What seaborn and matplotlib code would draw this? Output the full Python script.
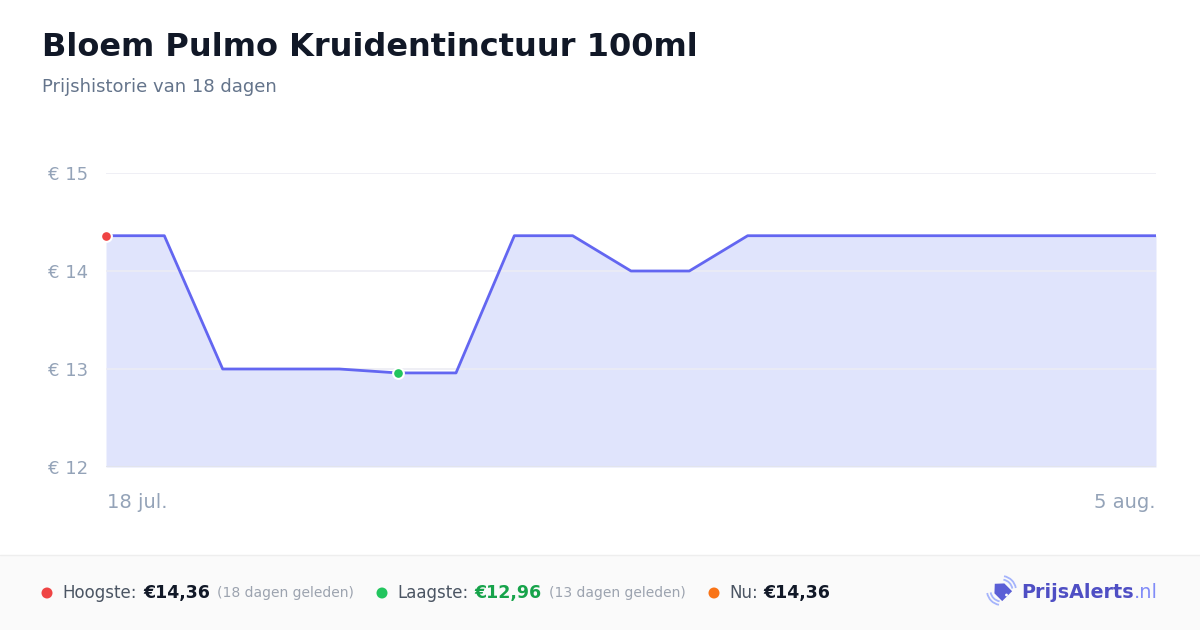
import numpy as np
import pandas as pd
import matplotlib
matplotlib.use("Agg")
import matplotlib.pyplot as plt
import matplotlib.patches as mpatches
import seaborn as sns

# price history, 18 jul -> 5 aug
dates = ["2024-07-18", "2024-07-19", "2024-07-20", "2024-07-21", "2024-07-22",
         "2024-07-23", "2024-07-24", "2024-07-25", "2024-07-26", "2024-07-27",
         "2024-07-28", "2024-07-29", "2024-07-30", "2024-07-31", "2024-08-01",
         "2024-08-02", "2024-08-03", "2024-08-04", "2024-08-05"]
prices = [14.36, 14.36, 13.00, 13.00, 13.00, 12.96, 12.96, 14.36, 14.36, 14.00,
          14.00, 14.36, 14.36, 14.36, 14.36, 14.36, 14.36, 14.36, 14.36]
y_ticks = [12, 13, 14, 15]
x_labels = ["18 jul.", "5 aug."]

title = "Bloem Pulmo Kruidentinctuur 100ml"
subtitle = "Prijshistorie van 18 dagen"

df = pd.DataFrame({"date": pd.to_datetime(dates), "price": prices})
df["day"] = (df["date"] - df["date"].iloc[0]).dt.days

sns.set_style("white")
plt.rcParams["font.family"] = ["DejaVu Sans"]

W, H = 1200, 630
fig = plt.figure(figsize=(12, 6.3), dpi=100)
fig.patch.set_facecolor("white")

# overlay in pixel coordinates for header / footer decoration
ov = fig.add_axes([0, 0, 1, 1], zorder=-1)
ov.set_xlim(0, W)
ov.set_ylim(H, 0)
ov.axis("off")
ov.add_patch(mpatches.Rectangle((0, 555), W, 75, facecolor="#fafafa", edgecolor="none"))
ov.plot([0, W], [554.5, 554.5], color="#eeeeee", lw=1)

ax = fig.add_axes([106 / W, 1 - 467 / H, 1050 / W, 294 / H])
ax.set_facecolor("none")

ax.fill_between(df["day"], df["price"], 12, color="#e0e4fc", lw=0, zorder=1)
for t in y_ticks[1:]:
    ax.axhline(t, color="#ececf4", lw=1.2, zorder=2)
ax.axhline(12, color="#e2e4ec", lw=1.5, zorder=2)
sns.lineplot(data=df, x="day", y="price", ax=ax, color="#6366f1", lw=2, zorder=3)

i_max = 0
i_min = int(np.argmin(prices))
ax.scatter(df["day"][i_max], prices[i_max], s=60, color="#ef4444",
           edgecolor="white", linewidth=1.5, zorder=5, clip_on=False)
ax.scatter(df["day"][i_min], prices[i_min], s=60, color="#22c55e",
           edgecolor="white", linewidth=1.5, zorder=5, clip_on=False)

ax.set_xlim(df["day"].min(), df["day"].max())
ax.set_ylim(12, 15)
ax.set_yticks(y_ticks)
ax.set_yticklabels([f"€ {t}" for t in y_ticks])
ax.tick_params(axis="y", length=0, pad=13, labelsize=13, labelcolor="#94a3b8")
ax.set_xticks([])
ax.set_xlabel("")
ax.set_ylabel("")
sns.despine(ax=ax, left=True, bottom=True)

ov.text(107, 503, x_labels[0], ha="left", va="center", fontsize=14, color="#94a3b8")
ov.text(1156, 503, x_labels[1], ha="right", va="center", fontsize=14, color="#94a3b8")

# header
ov.text(42, 48, title, fontsize=23, fontweight="bold", color="#111827",
        ha="left", va="center")
ov.text(42, 87, subtitle, fontsize=13, color="#64748b", ha="left", va="center")

# footer stats
yf = 593


def dot(px, color):
    ov.add_patch(mpatches.Circle((px, yf), radius=5.5, facecolor=color, edgecolor="none"))


dot(47, "#ef4444")
ov.text(62, yf, "Hoogste:", fontsize=12, color="#4b5563", va="center")
ov.text(143, yf, "€14,36", fontsize=12.5, fontweight="bold", color="#111827", va="center")
ov.text(217, yf, "(18 dagen geleden)", fontsize=10, color="#9ca3af", va="center")

dot(382, "#22c55e")
ov.text(397, yf, "Laagste:", fontsize=12, color="#4b5563", va="center")
ov.text(474, yf, "€12,96", fontsize=12.5, fontweight="bold", color="#16a34a", va="center")
ov.text(549, yf, "(13 dagen geleden)", fontsize=10, color="#9ca3af", va="center")

dot(714, "#f97316")
ov.text(729, yf, "Nu:", fontsize=12, color="#4b5563", va="center")
ov.text(763, yf, "€14,36", fontsize=12.5, fontweight="bold", color="#111827", va="center")

# logo: tag icon (house shape rotated -45 deg) with signal arcs
cx, cy = 1001.5, 590.5
house = np.array([[0, -9.5], [7, -3], [7, 8], [-7, 8], [-7, -3]])
th = np.deg2rad(-45)
rot = np.array([[np.cos(th), -np.sin(th)], [np.sin(th), np.cos(th)]])
pts = house @ rot.T + [cx, cy]
ov.add_patch(mpatches.Polygon(pts, closed=True, facecolor="#5b5fd6", edgecolor="none"))
ov.add_patch(mpatches.Circle((1006.5, 595), radius=1.4, facecolor="white", edgecolor="none"))
for r in (11, 14.5):
    ov.add_patch(mpatches.Arc((cx, cy), 2 * r, 2 * r, theta1=-80, theta2=-10,
                              color="#a5b4fc", lw=1.3))
    ov.add_patch(mpatches.Arc((cx, cy), 2 * r, 2 * r, theta1=100, theta2=170,
                              color="#a5b4fc", lw=1.3))
ov.text(1021, yf, "PrijsAlerts", fontsize=13.8, fontweight="bold",
        color="#4f4fc4", va="center", ha="left")
ov.text(1158, yf, ".nl", fontsize=14, color="#818cf8", va="center", ha="right")

fig.savefig("out.png", dpi=100, facecolor="white")
